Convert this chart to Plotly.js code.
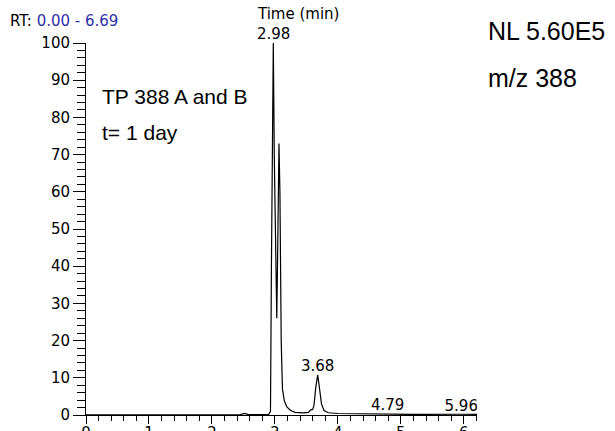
<!DOCTYPE html>
<html>
<head>
<meta charset="utf-8">
<script src="https://cdn.plot.ly/plotly-3.0.1.min.js"></script>
<style>
  html, body { margin: 0; padding: 0; background: #fff; }
  #chart { width: 615px; height: 431px; }
</style>
</head>
<body>
<div id="chart"></div>
<script>
// Retention time (min)
const times = [0.00, 0.50, 1.00, 1.50, 2.00, 2.45, 2.52, 2.58, 2.90, 2.93, 2.945, 2.96, 2.975, 2.99, 3.02, 3.03, 3.045, 3.065, 3.08, 3.10, 3.12, 3.15, 3.19, 3.25, 3.32, 3.45, 3.53, 3.57, 3.60, 3.62, 3.65, 3.68, 3.71, 3.74, 3.78, 3.85, 4.00, 4.30, 4.79, 5.20, 5.96, 6.30, 6.69];
// Relative abundance (%)
const abundance = [0.05, 0.08, 0.05, 0.08, 0.10, 0.10, 0.45, 0.10, 0.15, 1.0, 40, 85, 100, 70, 30, 26, 45, 73, 60, 20, 7.0, 3.8, 2.2, 1.2, 0.7, 0.55, 0.7, 1.4, 1.5, 2.5, 7.5, 10.8, 7.0, 3.0, 1.2, 0.6, 0.4, 0.3, 0.25, 0.15, 0.2, 0.15, 0.10];
// Labelled peaks
const peakTimes = [2.98, 3.68, 4.79];
const clippedPeakTimes = [5.96];
const rtRange = ['0.00', '6.69'];
const xTitle = 'Time (min)';
const infoRight = ['NL 5.60E5', 'm/z 388'];
const infoLeft = ['TP 388 A and B', 't= 1 day'];

function valueAt(t) {
  let best = 0, bd = Infinity;
  for (let i = 0; i < times.length; i++) {
    const d = Math.abs(times[i] - t);
    if (d < bd) { bd = d; best = i; }
  }
  return abundance[best];
}
const fmt = v => v.toFixed(2);

const smallFont = { family: 'DejaVu Sans', size: 15, color: '#000' };
const bigFont = { family: 'Liberation Sans, Arial', size: 21, color: '#000' };
const bigFont2 = { family: 'Liberation Sans, Arial', size: 25, color: '#000' };

const traces = [
  {
    x: times, y: abundance, type: 'scatter', mode: 'lines',
    line: { color: '#000', width: 1.2 },
    cliponaxis: true, hoverinfo: 'skip', showlegend: false
  },
  {
    x: clippedPeakTimes, y: clippedPeakTimes.map(valueAt),
    text: clippedPeakTimes.map(fmt),
    type: 'scatter', mode: 'text', textposition: 'top center',
    textfont: smallFont, cliponaxis: true, hoverinfo: 'skip', showlegend: false
  }
];

const L = 86, R = 477, T = 43, B = 415;
const px = x => (x - L) / (R - L);
const py = y => (B - y) / (B - T);

const annotations = [];
peakTimes.forEach(t => {
  annotations.push({
    x: t, y: valueAt(t), xref: 'x', yref: 'y', text: fmt(t),
    showarrow: false, xanchor: 'center', yanchor: 'bottom',
    font: smallFont, borderpad: 0, yshift: -1
  });
});
annotations.push({
  x: px(298), y: py(14), xref: 'paper', yref: 'paper', text: xTitle,
  showarrow: false, xanchor: 'center', yanchor: 'middle', font: smallFont, borderpad: 0
});
annotations.push({
  x: px(9), y: py(21), xref: 'paper', yref: 'paper',
  text: 'RT: <span style="color:#2e2eaa">' + rtRange[0] + ' - ' + rtRange[1] + '</span>',
  showarrow: false, xanchor: 'left', yanchor: 'middle', font: smallFont, borderpad: 0
});
annotations.push({
  x: px(487), y: py(31), xref: 'paper', yref: 'paper', text: infoRight[0],
  showarrow: false, xanchor: 'left', yanchor: 'middle', font: bigFont2, borderpad: 0
});
annotations.push({
  x: px(487), y: py(78), xref: 'paper', yref: 'paper', text: infoRight[1],
  showarrow: false, xanchor: 'left', yanchor: 'middle', font: bigFont2, borderpad: 0
});
annotations.push({
  x: px(101), y: py(96), xref: 'paper', yref: 'paper', text: infoLeft[0],
  showarrow: false, xanchor: 'left', yanchor: 'middle', font: bigFont, borderpad: 0
});
annotations.push({
  x: px(101), y: py(132), xref: 'paper', yref: 'paper', text: infoLeft[1],
  showarrow: false, xanchor: 'left', yanchor: 'middle', font: bigFont, borderpad: 0
});

const layout = {
  width: 615, height: 431,
  margin: { l: L, r: 615 - R, t: T, b: 431 - B, pad: 0 },
  paper_bgcolor: '#fff', plot_bgcolor: '#fff',
  showlegend: false,
  xaxis: {
    range: [0, 6.21], showgrid: false, zeroline: false,
    showline: true, linecolor: '#000', linewidth: 1,
    ticks: 'outside', ticklen: 8, tickwidth: 1, tickcolor: '#000',
    tick0: 0, dtick: 1, tickfont: smallFont, ticklabelstandoff: -4,
    minor: { dtick: 0.2, tick0: 0, ticks: 'outside', ticklen: 5, tickcolor: '#000', tickwidth: 1, showgrid: false }
  },
  yaxis: {
    range: [0, 100], showgrid: false, zeroline: false,
    showline: true, linecolor: '#000', linewidth: 1,
    ticks: 'outside', ticklen: 12, tickwidth: 1, tickcolor: '#000',
    tick0: 0, dtick: 10, tickfont: smallFont,
    minor: { dtick: 2, tick0: 0, ticks: 'outside', ticklen: 8, tickcolor: '#000', tickwidth: 1, showgrid: false }
  },
  annotations: annotations
};

Plotly.newPlot('chart', traces, layout, { staticPlot: true, displayModeBar: false });
</script>
</body>
</html>
